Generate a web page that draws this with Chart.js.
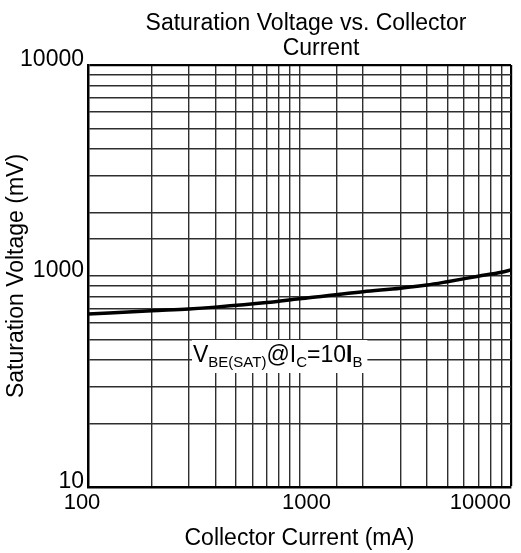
<!DOCTYPE html>
<html>
<head>
<meta charset="utf-8">
<script src="https://cdn.jsdelivr.net/npm/chart.js@4"></script>
<style>
  body { margin: 0; background: #fff; }
  canvas { display: block; }
</style>
</head>
<body>
<canvas id="chart" width="521" height="553"></canvas>
<script>
// Collector current (mA) and V_BE(sat) (mV)
var currentMA = [100, 200, 300, 400, 700, 1000, 2000, 3000, 4000, 5000, 7000, 9000, 10000];
var vbeSatMV = [660, 685, 698, 712, 748, 780, 843, 875, 906, 940, 998, 1042, 1068];

// tick labels (the datasheet prints "10" at the bottom of the 100 mV decade)
var xTickValues = [100, 1000, 10000];
var xTickLabels = ["100", "1000", "10000"];
var yTickValues = [100, 1000, 10000];
var yTickLabels = ["10", "1000", "10000"];

var titleLines = ["Saturation Voltage vs. Collector", "Current"];

var FONT = "'Liberation Sans', Arial, sans-serif";

var points = currentMA.map(function (c, i) {
  return { x: c, y: vbeSatMV[i] };
});

function edgeWidth(ctx) {
  var v = ctx.tick ? ctx.tick.value : null;
  return v === 10000 ? 2.2 : 1.4;
}
function edgeColor(ctx) {
  var v = ctx.tick ? ctx.tick.value : null;
  return v === 10000 ? "#000" : "#2e2e2e";
}

// title, x tick labels and the curve label
var textPlugin = {
  id: "texts",
  afterDraw: function (chart) {
    var ctx = chart.ctx;
    var area = chart.chartArea;
    var xs = chart.scales.x;
    ctx.save();
    ctx.fillStyle = "#000";
    ctx.textBaseline = "alphabetic";

    // title
    ctx.font = "23px " + FONT;
    ctx.textAlign = "center";
    ctx.fillText(titleLines[0], 306, 30);
    ctx.fillText(titleLines[1], 321, 55);

    // x tick labels
    ctx.font = "22px " + FONT;
    xTickValues.forEach(function (v, i) {
      var px = xs.getPixelForValue(v);
      if (i === xTickValues.length - 1) {
        ctx.textAlign = "right";
        ctx.fillText(xTickLabels[i], px, area.bottom + 22);
      } else {
        ctx.textAlign = "center";
        ctx.fillText(xTickLabels[i], px + (i === 0 ? -6 : 7), area.bottom + 22);
      }
    });

    // curve label V_BE(SAT)@I_C=10I_B
    var parts = [
      { t: "V", f: "23px " + FONT, dy: 0 },
      { t: "BE(SAT)", f: "15px " + FONT, dy: 5 },
      { t: "@I", f: "23px " + FONT, dy: 0 },
      { t: "C", f: "15px " + FONT, dy: 5 },
      { t: "=10", f: "23px " + FONT, dy: 0 },
      { t: "I", f: "bold 23px " + FONT, dy: 0 },
      { t: "B", f: "15px " + FONT, dy: 5 }
    ];
    var total = 0;
    parts.forEach(function (p) {
      ctx.font = p.f;
      p.w = ctx.measureText(p.t).width;
      total += p.w;
    });
    var x0 = area.left + 105;
    var base = area.top + 297;
    ctx.fillStyle = "#fff";
    ctx.fillRect(x0 - 1, base - 22, total + 6, 33);
    ctx.fillStyle = "#000";
    ctx.textAlign = "left";
    var x = x0;
    parts.forEach(function (p) {
      ctx.font = p.f;
      ctx.fillText(p.t, x, base + p.dy);
      x += p.w;
    });
    ctx.restore();
  }
};

new Chart(document.getElementById("chart"), {
  type: "line",
  data: {
    datasets: [{
      data: points,
      borderColor: "#000",
      borderWidth: 3.5,
      pointRadius: 0,
      fill: false,
      cubicInterpolationMode: "monotone"
    }]
  },
  options: {
    responsive: false,
    animation: false,
    layout: { padding: { top: 65, right: 10, left: 0, bottom: 0 } },
    plugins: {
      legend: { display: false },
      tooltip: { enabled: false }
    },
    scales: {
      x: {
        type: "logarithmic",
        min: 100,
        max: 10000,
        afterFit: function (scale) { scale.height = 66; },
        grid: { color: edgeColor, lineWidth: edgeWidth, drawTicks: false },
        border: { display: true, color: "#000", width: 2.5 },
        ticks: { display: false, autoSkip: false },
        title: {
          display: true,
          text: "Collector Current (mA)",
          color: "#000",
          font: { family: FONT, size: 23 },
          padding: { top: 0, bottom: 1 }
        }
      },
      y: {
        type: "logarithmic",
        min: 100,
        max: 10000,
        afterFit: function (scale) { scale.width = 88; },
        grid: { color: edgeColor, lineWidth: edgeWidth, drawTicks: false },
        border: { display: true, color: "#000", width: 2.5 },
        ticks: {
          autoSkip: false,
          color: "#000",
          padding: 4,
          labelOffset: -5,
          font: { family: FONT, size: 23 },
          callback: function (value) {
            var i = yTickValues.indexOf(Number(value));
            return i >= 0 ? yTickLabels[i] : "";
          }
        },
        title: {
          display: true,
          text: "Saturation Voltage (mV)",
          color: "#000",
          font: { family: FONT, size: 23 },
          padding: { top: 3, bottom: 0 }
        }
      }
    }
  },
  plugins: [textPlugin]
});
</script>
</body>
</html>
